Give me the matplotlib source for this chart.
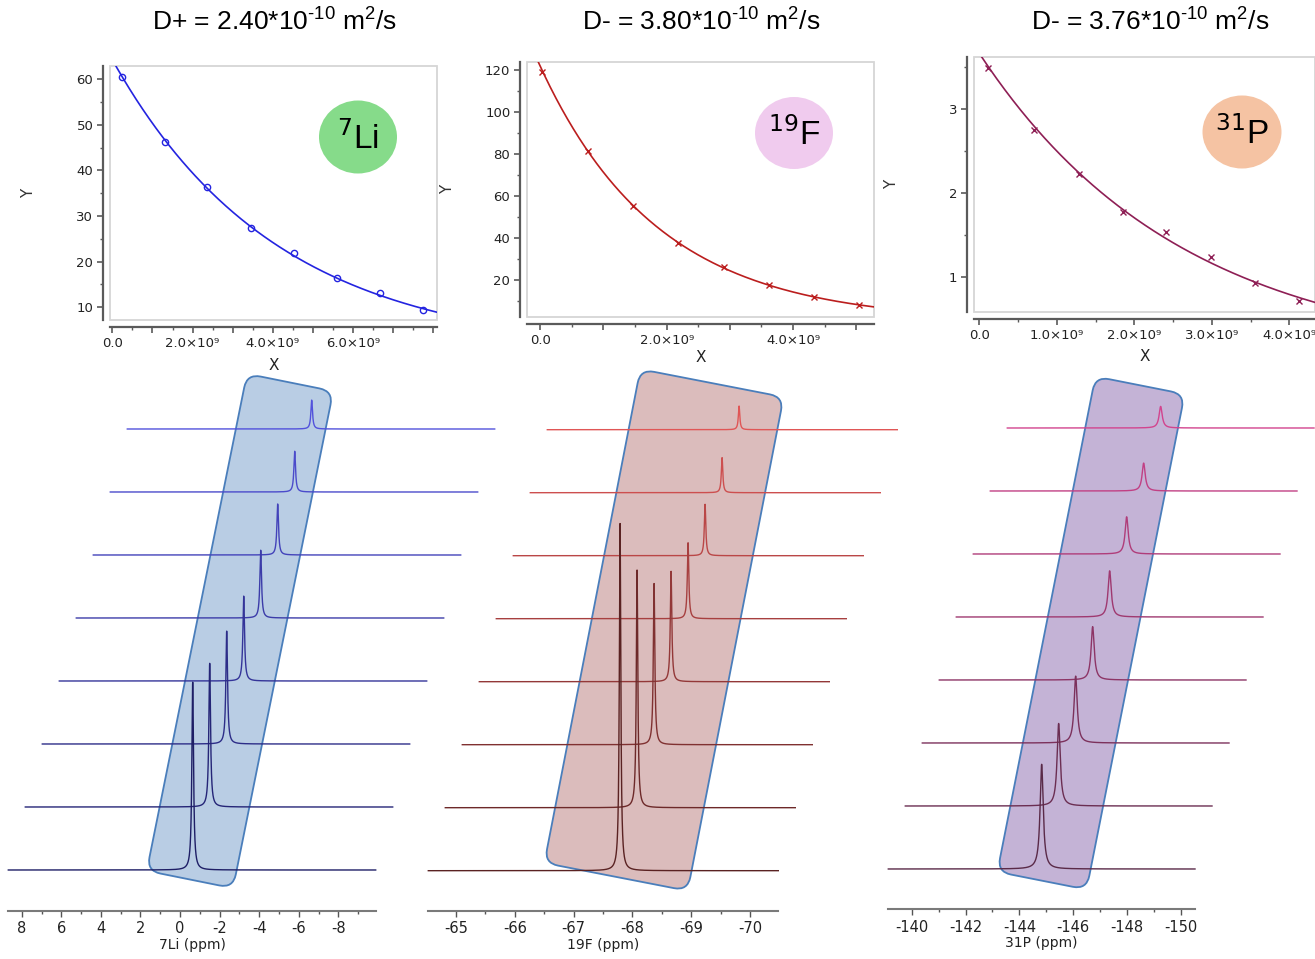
import numpy as np
import matplotlib
matplotlib.use("Agg")
import matplotlib.pyplot as plt
from matplotlib.patches import FancyBboxPatch, Ellipse, Rectangle
from matplotlib.transforms import Affine2D, offset_copy
from matplotlib.ticker import MultipleLocator, FuncFormatter
from matplotlib.colors import to_rgb

plt.rcParams['axes.unicode_minus'] = False
plt.rcParams['font.family'] = ['DejaVu Sans']
plt.rcParams['mathtext.fontset'] = 'custom'
plt.rcParams['mathtext.rm'] = 'Liberation Sans'
plt.rcParams['mathtext.it'] = 'Liberation Sans'
plt.rcParams['mathtext.bf'] = 'Liberation Sans'

W, H, DPI = 1315, 959, 100

# --- data ---
# gradient strength (x) and signal intensity (y) of the three nuclei
li_x = np.array([0.23, 1.31, 2.37, 3.46, 4.52, 5.61, 6.67, 7.75]) * 1e9
li_y = np.array([60.4, 46.2, 36.3, 27.3, 21.8, 16.4, 13.1, 9.3])
f_x = np.array([0.03, 0.76, 1.47, 2.18, 2.91, 3.62, 4.33, 5.04]) * 1e9
f_y = np.array([118.9, 81.4, 55.2, 37.8, 26.0, 17.6, 12.0, 8.1])
p_x = np.array([0.11, 0.70, 1.28, 1.85, 2.41, 2.99, 3.56, 4.13]) * 1e9
p_y = np.array([3.49, 2.75, 2.23, 1.78, 1.54, 1.24, 0.93, 0.72])

titles = ['D+ = 2.40*10$^{\\mathrm{\u2010}10}$ m$^{2}$/s',
          'D- = 3.80*10$^{\\mathrm{\u2010}10}$ m$^{2}$/s',
          'D- = 3.76*10$^{\\mathrm{\u2010}10}$ m$^{2}$/s']
isotopes = ['$^{7}$Li', '$^{19}$F', '$^{31}$P']
ppm_labels = ['7Li (ppm)', '19F (ppm)', '31P (ppm)']
peak_ppm = [-0.64, -67.79, -144.83]
x_labelled = [[0, 2, 4, 6], [0, 2, 4], [0, 1, 2, 3, 4]]

fig = plt.figure(figsize=(W / DPI, H / DPI), dpi=DPI)
img = Affine2D().scale(1, -1).translate(0, H).scale(1.0 / DPI) + fig.dpi_scale_trans


def px_axes(x0, y0, x1, y1):
    return fig.add_axes([x0 / W, 1 - y1 / H, (x1 - x0) / W, (y1 - y0) / H])


def sci_fmt(labelled):
    def f(v, pos):
        k = int(round(v / 1e9))
        if k not in labelled:
            return ''
        if k == 0:
            return '0.0'
        return f'{k}.0×10⁹'
    return FuncFormatter(f)


# --- top panels: decay curves ---
top = [
    dict(x=li_x, y=li_y, frame=(110, 66, 437, 320), xlim=(-0.06e9, 8.1e9), ylim=(7.2, 62.9),
         ymaj=10, ymin=5, col='#2424e0', mk='o', title_x=275,
         badge=(358, 137, 78, 73, '#86db8a'), ylab=-0.227, xlab=-0.15),
    dict(x=f_x, y=f_y, frame=(527, 62, 874, 317), xlim=(-0.21e9, 5.28e9), ylim=(2.4, 123.8),
         ymaj=20, ymin=10, col='#bb1e1e', mk='x', title_x=701,
         badge=(794, 133, 78, 72, '#f0cbee'), ylab=-0.208, xlab=-0.13),
    dict(x=p_x, y=p_y, frame=(974, 57, 1315, 312), xlim=(-0.068e9, 4.33e9), ylim=(0.587, 3.62),
         ymaj=1, ymin=0.5, col='#8e1f55', mk='x', title_x=1150,
         badge=(1242, 132, 79, 73, '#f5c3a3'), ylab=-0.22, xlab=-0.145),
]

for i, c in enumerate(top):
    ax = px_axes(*c['frame'])
    # exponential fit to the points
    a, b = np.polyfit(c['x'], np.log(c['y']), 1)
    xx = np.linspace(c['xlim'][0], c['xlim'][1], 300)
    ax.plot(xx, np.exp(b) * np.exp(a * xx), color=c['col'], lw=1.2)
    if c['mk'] == 'o':
        ax.plot(c['x'], c['y'], 'o', ms=4.5, mfc='none', mec=c['col'], mew=1.0)
    else:
        ax.plot(c['x'], c['y'], 'x', ms=4.5, color=c['col'], mew=1.0)
    ax.set_xlim(*c['xlim'])
    ax.set_ylim(*c['ylim'])
    for s in ['top', 'right']:
        ax.spines[s].set_visible(False)
    for s in ['left', 'bottom']:
        ax.spines[s].set_position(('outward', 5))
        ax.spines[s].set_color('#5a5a5a')
        ax.spines[s].set_linewidth(1.6)
    ax.add_patch(Rectangle((0, 0), 1, 1, transform=ax.transAxes, fill=False,
                           ec='#d6d6d6', lw=1.3, clip_on=False))
    ax.xaxis.set_major_locator(MultipleLocator(1e9))
    ax.xaxis.set_minor_locator(MultipleLocator(0.5e9))
    ax.xaxis.set_major_formatter(sci_fmt(x_labelled[i]))
    ax.yaxis.set_major_locator(MultipleLocator(c['ymaj']))
    ax.yaxis.set_minor_locator(MultipleLocator(c['ymin']))
    ax.tick_params(which='major', length=4, width=1.2, color='#5a5a5a',
                   labelsize=9.5, labelcolor='#222222', pad=3)
    ax.tick_params(which='minor', length=2.5, width=1.0, color='#5a5a5a')
    ax.set_xlabel('X', fontsize=11, color='#222222')
    ax.set_ylabel('Y', fontsize=11, color='#333333')
    ax.xaxis.set_label_coords(0.5, c['xlab'])
    ax.yaxis.set_label_coords(c['ylab'], 0.5)

    bx, by, bw, bh, bc = c['badge']
    fig.add_artist(Ellipse((bx, by), bw, bh, transform=img, fc=bc, ec='none'))
    fig.text(bx, by + 2, isotopes[i], transform=img, ha='center', va='center',
             fontsize=24, family='Liberation Sans', math_fontfamily='dejavusans')
    fig.text(c['title_x'] / W, 1 - 22 / H, titles[i], ha='center', va='center',
             fontsize=19, family=['Liberation Sans', 'DejaVu Sans'])

# --- bottom panels: stacked spectra ---
spec = [
    dict(amp=li_y, left=8.3, right=375.7, axis_y=910.7, base_y=870, xlim=(8.68, -9.89),
         maj=2, mnr=1, scale=3.11, hwhm=0.05, c_top='#5252dc', c_bot='#1e1e66',
         box=(240, 631, 88, 507, 11.4, '#b9cde4')),
    dict(amp=f_y, left=428.3, right=778.3, axis_y=910.7, base_y=870.7, xlim=(-64.53, -70.48),
         maj=1, mnr=0.5, scale=2.92, hwhm=0.015, c_top='#e05656', c_bot='#5a2222',
         box=(664, 630, 146, 503, 11.0, '#dbbcbc')),
    dict(amp=p_y, left=888.3, right=1195, axis_y=909.3, base_y=869, xlim=(-139.13, -150.53),
         maj=2, mnr=1, scale=30.0, hwhm=0.07, c_top='#d2448e', c_bot='#5a2a48',
         box=(1091, 633, 91, 505, 11.2, '#c4b3d6')),
]
dx_step, dy_step = 17, 63
top_y = 380

for i, s in enumerate(spec):
    ax = px_axes(s['left'], top_y, s['right'], s['axis_y'])
    ax.set_facecolor('none')
    x = np.linspace(s['xlim'][0], s['xlim'][1], 6000)
    c0, c1 = np.array(to_rgb(s['c_bot'])), np.array(to_rgb(s['c_top']))
    n = len(s['amp'])
    for k, amp in enumerate(s['amp']):
        y = amp / (1 + ((x - peak_ppm[i]) / s['hwhm']) ** 2)
        tr = offset_copy(ax.transData, fig=fig, x=dx_step * k, y=dy_step * k, units='dots')
        col = c0 + (c1 - c0) * k / (n - 1)
        ax.plot(x, y, color=col, lw=1.0, transform=tr, clip_on=False, zorder=20 - k)

    cx, cy, bw, bh, ang, fc = s['box']
    box = FancyBboxPatch((cx - bw / 2, cy - bh / 2), bw, bh,
                         boxstyle='round,pad=0,rounding_size=14',
                         transform=Affine2D().rotate_deg_around(cx, cy, ang) + img,
                         fc=fc, ec='#4a7ebb', lw=1.3, clip_on=False, zorder=1)
    ax.add_patch(box)

    ax.set_xlim(*s['xlim'])
    y0 = -(s['axis_y'] - s['base_y']) / s['scale']
    ax.set_ylim(y0, y0 + (s['axis_y'] - top_y) / s['scale'])
    for sp in ['top', 'right', 'left']:
        ax.spines[sp].set_visible(False)
    ax.spines['bottom'].set_color('#7a7a7a')
    ax.spines['bottom'].set_linewidth(1.5)
    ax.set_yticks([])
    ax.xaxis.set_major_locator(MultipleLocator(s['maj']))
    ax.xaxis.set_minor_locator(MultipleLocator(s['mnr']))
    ax.tick_params(which='major', length=4.5, width=1.0, color='#555555',
                   labelsize=10.5, labelcolor='#222222', pad=3)
    ax.tick_params(which='minor', length=2.5, width=1.0, color='#555555')
    ax.set_xlabel(ppm_labels[i], fontsize=10, color='#222222', labelpad=1)

fig.savefig('out.png', dpi=DPI, facecolor='white')
